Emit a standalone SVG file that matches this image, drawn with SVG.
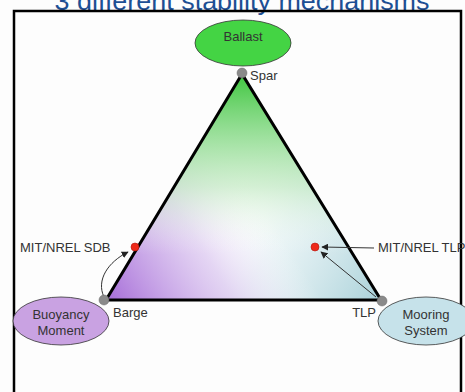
<svg xmlns="http://www.w3.org/2000/svg" width="465" height="392" viewBox="0 0 465 392">
  <defs>
    <style>
      .lbl { font-family: "Liberation Sans", Arial, sans-serif; font-size: 13px; fill: #333; }
      .node { font-family: "Liberation Sans", Arial, sans-serif; font-size: 13px; fill: #333; text-anchor: middle; }
      .vtx { fill: #8a8a8a; stroke: #6a6a6a; stroke-width: 0.5; }
      .pt { fill: #ee2a1a; stroke: #b01810; stroke-width: 0.6; }
      .arr { fill: none; stroke: #333; stroke-width: 1; marker-end: url(#ah); }
    </style>
    <marker id="ah" viewBox="0 0 10 10" refX="9" refY="5" markerWidth="7" markerHeight="7" orient="auto" markerUnits="userSpaceOnUse">
      <path d="M0,0 L10,5 L0,10 z" fill="#222"/>
    </marker>
    <linearGradient id="gGreen" gradientUnits="userSpaceOnUse" x1="242" y1="74" x2="242" y2="300">
      <stop offset="0" stop-color="#3ec63e" stop-opacity="1"/>
      <stop offset="0.5" stop-color="#b8e6b8" stop-opacity="0.6"/>
      <stop offset="0.8" stop-color="#ffffff" stop-opacity="0"/>
    </linearGradient>
    <linearGradient id="gPurple" gradientUnits="userSpaceOnUse" x1="106" y1="300" x2="290" y2="185">
      <stop offset="0" stop-color="#a66cd8" stop-opacity="1"/>
      <stop offset="0.5" stop-color="#dcc8f0" stop-opacity="0.75"/>
      <stop offset="0.85" stop-color="#ffffff" stop-opacity="0"/>
    </linearGradient>
    <linearGradient id="gBlue" gradientUnits="userSpaceOnUse" x1="381" y1="300" x2="190" y2="190">
      <stop offset="0" stop-color="#a9d1d9" stop-opacity="1"/>
      <stop offset="0.55" stop-color="#e0eff2" stop-opacity="0.65"/>
      <stop offset="0.85" stop-color="#ffffff" stop-opacity="0"/>
    </linearGradient>
  </defs>

  <rect x="0" y="0" width="465" height="392" fill="#fdfdfd"/>

  <!-- title, running above the top edge -->
  <text x="242" y="10" text-anchor="middle" font-family="Liberation Sans, Arial, sans-serif" font-size="26" textLength="375" lengthAdjust="spacingAndGlyphs" fill="#1d4f94">3 different stability mechanisms</text>

  <!-- frame -->
  <path d="M14,400 L14,11 L461,11 L461,400" fill="none" stroke="#000" stroke-width="2.5"/>

  <!-- triangle with blended corner colours -->
  <g id="triangle">
    <polygon points="242,74 106,300 381,300" fill="#ffffff"/>
    <polygon points="242,74 106,300 381,300" fill="url(#gBlue)"/>
    <polygon points="242,74 106,300 381,300" fill="url(#gPurple)"/>
    <polygon points="242,74 106,300 381,300" fill="url(#gGreen)"/>
    <polygon points="242,74 106,300 381,300" fill="none" stroke="#000" stroke-width="3" stroke-linejoin="miter"/>
  </g>

  <g id="connectors">
    <path class="arr" d="M104,297 C96,280 108,262 128,252"/>
    <line class="arr" x1="374" y1="248" x2="322" y2="247"/>
    <line class="arr" x1="376" y1="297" x2="321" y2="252"/>
  </g>

  <g id="ballast">
    <ellipse cx="243" cy="43" rx="48" ry="23" fill="#44d444" stroke="#333" stroke-width="0.8"/>
    <text class="node" x="243" y="41">Ballast</text>
  </g>

  <g id="buoyancy">
    <ellipse cx="61" cy="321" rx="48" ry="24" fill="#c9a2e2" stroke="#333" stroke-width="0.8"/>
    <text class="node" x="61" y="319">Buoyancy</text>
    <text class="node" x="61" y="335">Moment</text>
  </g>

  <g id="mooring">
    <ellipse cx="426" cy="321" rx="48" ry="24" fill="#c6e2ea" stroke="#333" stroke-width="0.8"/>
    <text class="node" x="426" y="319">Mooring</text>
    <text class="node" x="426" y="335">System</text>
  </g>

  <g id="spar">
    <circle class="vtx" cx="242" cy="73" r="5"/>
    <text class="lbl" x="250" y="80">Spar</text>
  </g>
  <g id="barge">
    <circle class="vtx" cx="104" cy="300" r="5"/>
    <text class="lbl" x="113" y="317">Barge</text>
  </g>
  <g id="tlp">
    <circle class="vtx" cx="382" cy="301" r="5"/>
    <text class="lbl" x="376" y="317" text-anchor="end">TLP</text>
  </g>

  <g id="sdb-point">
    <circle class="pt" cx="135" cy="247" r="4"/>
    <text class="lbl" x="20" y="252">MIT/NREL SDB</text>
  </g>
  <g id="tlp-point">
    <circle class="pt" cx="315" cy="247" r="4"/>
    <text class="lbl" x="378" y="252">MIT/NREL TLP</text>
  </g>
</svg>
